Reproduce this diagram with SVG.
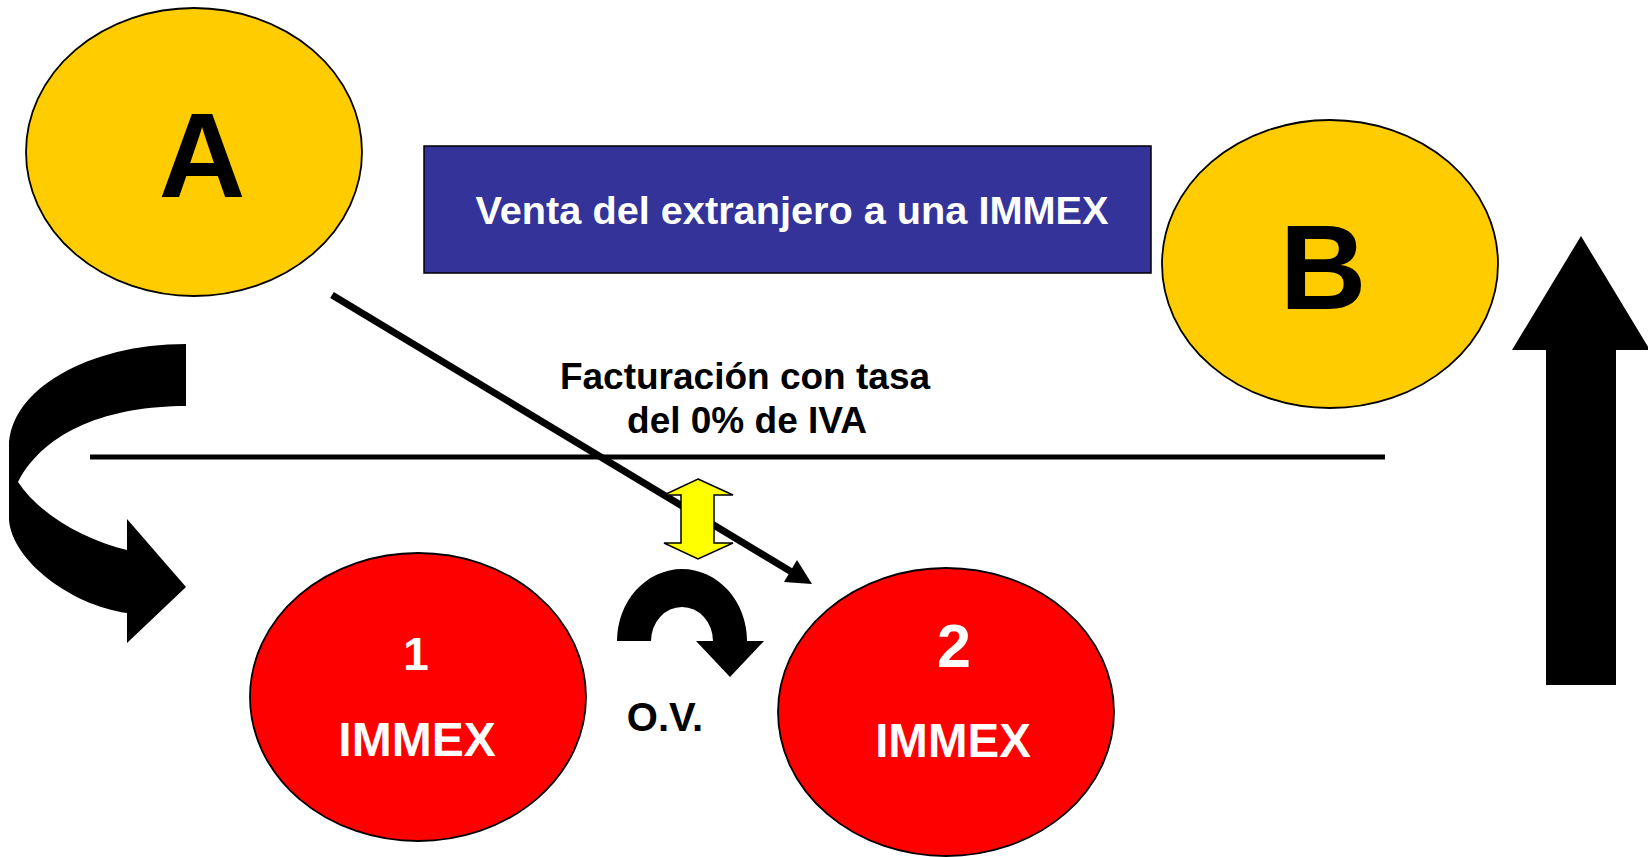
<svg xmlns="http://www.w3.org/2000/svg" width="1648" height="857" viewBox="0 0 1648 857">
<style>
.oval{stroke:#000;stroke-width:1.8}
.gold{fill:#FFCC00}
.red{fill:#FF0000}
.t{font-family:"Liberation Sans",Arial,sans-serif;font-weight:bold;text-anchor:middle}
.big{font-size:120px;fill:#000}
.wt{fill:#fff}
.bk{fill:#000}
.shape{fill:#000;stroke:none}
</style>
<rect width="1648" height="857" fill="#fff"/>
<g id="connectors">
<line x1="90" y1="457" x2="1385" y2="457" stroke="#000" stroke-width="5"/>
<line x1="332" y1="295" x2="795" y2="574" stroke="#000" stroke-width="7"/>
<polygon points="812,584 784,582 797,560" fill="#000"/>
<path id="curl-left" class="shape" d="M186,344 C88,344 9,390 9,447 L9,520 C12,560 70,605 127,613 L127,643 L186,587 L127,519 L127,550 C85,540 40,515 18,482 C45,430 110,406 186,406 Z"/>
<path id="curl-ov" class="shape" d="M617,641 A65,72 0 0 1 747,641 L764,641 L730,677 L696,641 L713,641 A31,34 0 0 0 651,641 Z"/>
<polygon id="up-arrow" class="shape" points="1581,236 1650,350 1616,350 1616,685 1546,685 1546,350 1512,350"/>
<polygon id="yellow-arrow" points="698,479 733,495 714,495 714,543 733,543 698,559 664,543 681,543 681,495 664,495" fill="#FFFF00" stroke="#000" stroke-width="1.5"/>
</g>
<g id="node-A">
<ellipse class="oval gold" cx="194" cy="152" rx="168" ry="144"/>
<text class="t big" x="202" y="197">A</text>
</g>
<g id="node-B">
<ellipse class="oval gold" cx="1330" cy="264" rx="168" ry="144"/>
<text class="t big" x="1323" y="309">B</text>
</g>
<g id="node-title">
<rect x="424" y="146" width="727" height="127" fill="#333399" stroke="#000" stroke-width="1.5"/>
<text class="t wt" x="792" y="224" font-size="39.7">Venta del extranjero a una IMMEX</text>
</g>
<g id="label-facturacion">
<text class="t bk" x="745" y="389" font-size="37">Facturación con tasa</text>
<text class="t bk" x="747" y="433" font-size="37">del 0% de IVA</text>
</g>
<g id="node-1">
<ellipse class="oval red" cx="418" cy="697" rx="168" ry="144"/>
<text class="t wt" x="416" y="670" font-size="46">1</text>
<text class="t wt" x="417" y="756" font-size="48">IMMEX</text>
</g>
<g id="node-2">
<ellipse class="oval red" cx="946" cy="712" rx="168" ry="144"/>
<text class="t wt" x="954" y="667" font-size="61">2</text>
<text class="t wt" x="953" y="757" font-size="47.5">IMMEX</text>
</g>
<g id="label-ov">
<text class="t bk" x="665" y="731" font-size="40">O.V.</text>
</g>
</svg>
